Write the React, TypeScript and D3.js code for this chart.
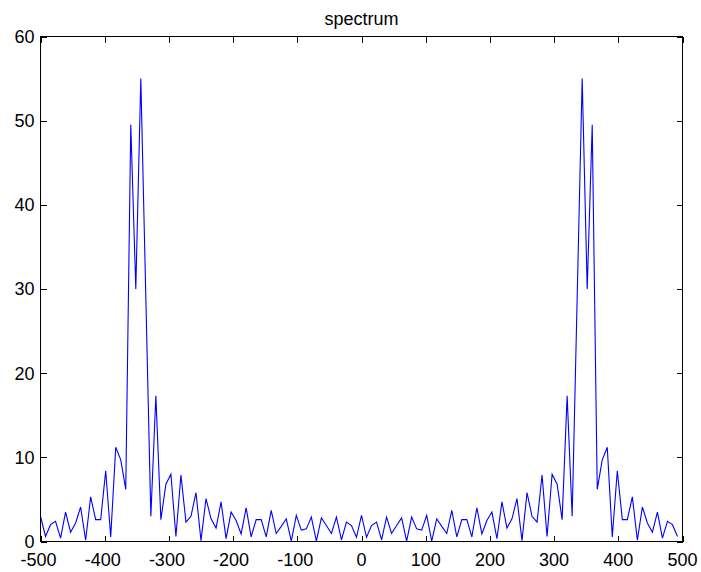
import React from "react";
import * as d3 from "d3";

// Frequency grid: 128-point FFT, fs = 1000 -> bins from -500 with step 7.8125
const binStep = 7.8125;
const binCount = 128;

// Magnitude spectrum values, one per bin
const magnitude: number[] = [
  3.0, 0.6, 2.0, 2.4, 0.4, 3.5, 1.1, 2.2, 4.1, 0.15,
  5.3, 2.6, 2.6, 8.4, 0.55, 11.2, 9.7, 6.2, 49.5, 30.0,
  55.0, 29.0, 3.0, 17.3, 2.6, 6.8, 8.0, 0.6, 7.9, 2.3,
  3.0, 5.8, 0.1, 5.1, 2.7, 1.6, 4.7, 0.35, 3.5, 2.5,
  0.9, 4.0, 0.55, 2.6, 2.6, 0.55, 3.7, 0.95, 1.8, 2.7,
  0.05, 3.1, 1.35, 1.5, 2.9, 0.05, 2.8, 1.9, 0.95, 2.9,
  0.2, 2.3, 1.9, 0.5, 3.1, 0.5, 1.9, 2.3, 0.2, 2.9,
  0.95, 1.9, 2.8, 0.05, 2.9, 1.5, 1.35, 3.1, 0.05, 2.7,
  1.8, 0.95, 3.7, 0.55, 2.6, 2.6, 0.55, 4.0, 0.9, 2.5,
  3.5, 0.35, 4.7, 1.6, 2.7, 5.1, 0.1, 5.8, 3.0, 2.3,
  7.9, 0.6, 8.0, 6.8, 2.6, 17.3, 3.0, 29.0, 55.0, 30.0,
  49.5, 6.2, 9.7, 11.2, 0.55, 8.4, 2.6, 2.6, 5.3, 0.15,
  4.1, 2.2, 1.1, 3.5, 0.4, 2.4, 2.0, 0.6,
];

const xTicks = [-500, -400, -300, -200, -100, 0, 100, 200, 300, 400, 500];
const yTicks = [0, 10, 20, 30, 40, 50, 60];
const title = "spectrum";

export default function App() {
  const W = 701;
  const H = 572;
  const left = 40.5;
  const right = 682.5;
  const top = 36.5;
  const bottom = 541.5;
  const tickLen = 6;
  const font = "Arial, 'Liberation Sans', Helvetica, sans-serif";
  const fs = 18;

  const x = d3.scaleLinear().domain([-500, 500]).range([left, right]);
  const y = d3.scaleLinear().domain([0, 60]).range([bottom, top]);

  const data = magnitude.slice(0, binCount).map((v, i) => ({
    f: -500 + i * binStep,
    v,
  }));
  const line = d3
    .line<{ f: number; v: number }>()
    .x((d) => x(d.f))
    .y((d) => y(d.v));

  return (
    <svg
      width={W}
      height={H}
      style={{ position: "absolute", left: 0, top: 0, background: "#fff" }}
      fontFamily={font}
    >
      <rect x={0} y={0} width={W} height={H} fill="#fff" />
      <path d={line(data) ?? ""} fill="none" stroke="#0000ff" strokeWidth={1.1} />
      <rect
        x={left}
        y={top}
        width={right - left}
        height={bottom - top}
        fill="none"
        stroke="#000"
        strokeWidth={1}
        shapeRendering="crispEdges"
      />
      {xTicks.map((t) => (
        <g key={"x" + t}>
          <line
            x1={Math.round(x(t)) + 0.5}
            x2={Math.round(x(t)) + 0.5}
            y1={bottom}
            y2={bottom - tickLen}
            stroke="#000"
            shapeRendering="crispEdges"
          />
          <line
            x1={Math.round(x(t)) + 0.5}
            x2={Math.round(x(t)) + 0.5}
            y1={top}
            y2={top + tickLen}
            stroke="#000"
            shapeRendering="crispEdges"
          />
          <text
            x={x(t) - (t < 0 ? 2 : 0)}
            y={566}
            fontSize={fs}
            textAnchor="middle"
            fill="#000"
          >
            {t}
          </text>
        </g>
      ))}
      {yTicks.map((t) => (
        <g key={"y" + t}>
          <line
            x1={left}
            x2={left + tickLen}
            y1={Math.round(y(t)) + 0.5}
            y2={Math.round(y(t)) + 0.5}
            stroke="#000"
            shapeRendering="crispEdges"
          />
          <line
            x1={right}
            x2={right - tickLen}
            y1={Math.round(y(t)) + 0.5}
            y2={Math.round(y(t)) + 0.5}
            stroke="#000"
            shapeRendering="crispEdges"
          />
          <text
            x={left - 6}
            y={y(t)}
            dy="0.36em"
            fontSize={fs}
            textAnchor="end"
            fill="#000"
          >
            {t}
          </text>
        </g>
      ))}
      <text x={(left + right) / 2} y={25} fontSize={18} textAnchor="middle" fill="#000">
        {title}
      </text>
    </svg>
  );
}
